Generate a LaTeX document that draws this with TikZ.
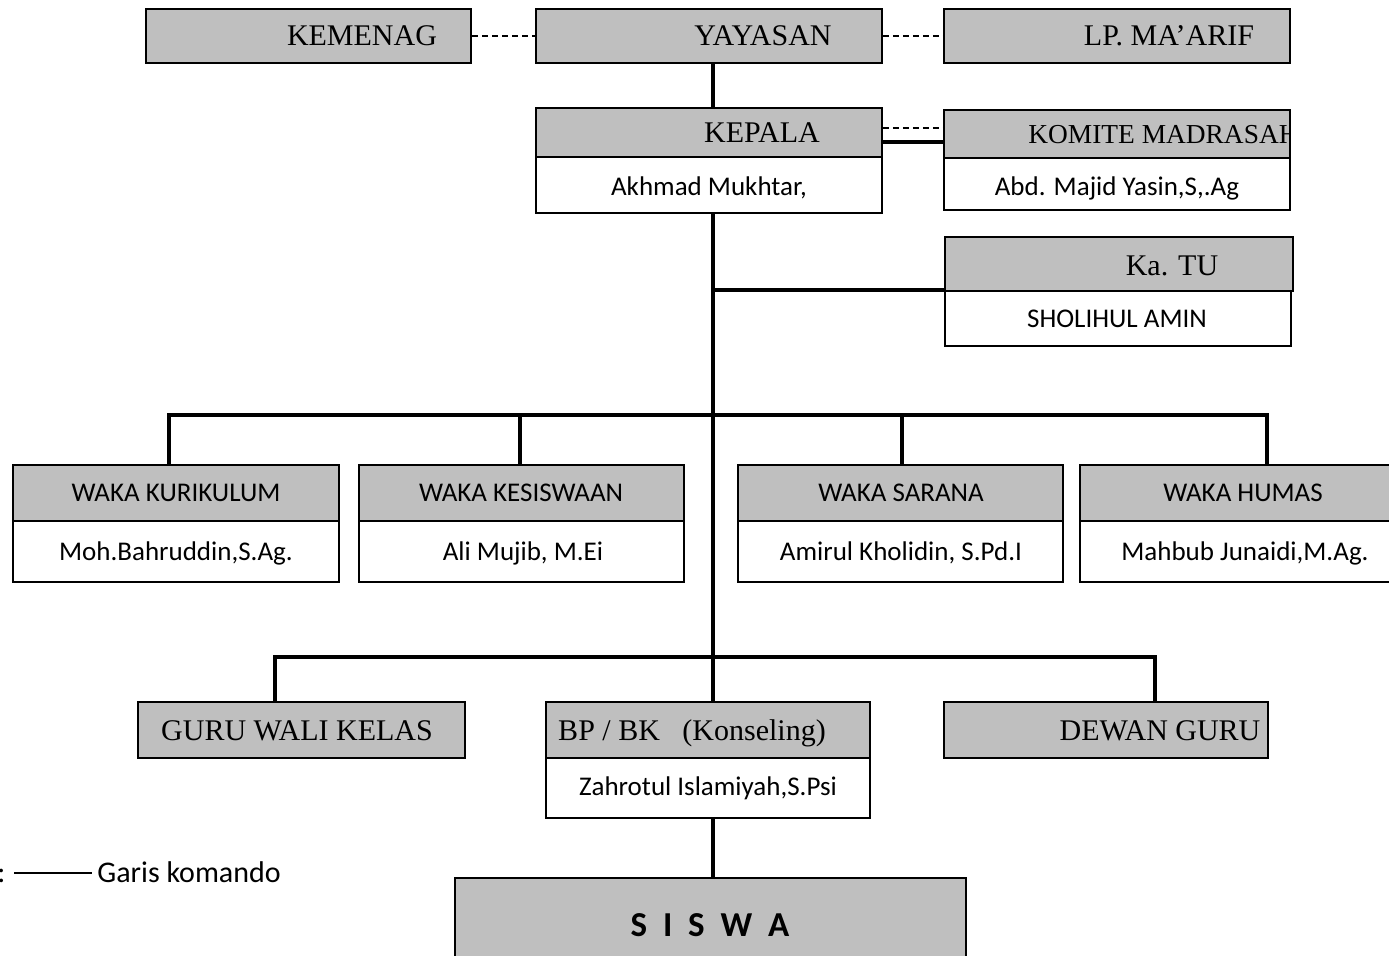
\documentclass[tikz,border=0pt]{standalone}
\usepackage{fontspec}
\setmainfont{Liberation Serif}
\newfontfamily\calibfont{Carlito}
\usetikzlibrary{fit}
\definecolor{boxgray}{RGB}{191,191,191}
\tikzset{
  gbox/.style={draw=black, fill=boxgray, line width=0.9pt, inner sep=0pt},
  wbox/.style={draw=black, fill=white, line width=0.9pt, inner sep=0pt},
  cmd/.style={line width=1.7pt},
  legline/.style={line width=0.7pt},
  rel/.style={line width=0.7pt, dash pattern=on 3pt off 2pt},
  tms/.style={font=\fontsize{15}{17}\selectfont, inner sep=0pt, anchor=base},
  clb/.style={font=\calibfont\fontsize{13.5}{16}\selectfont, inner sep=0pt, anchor=base},
}
\begin{document}
\begin{tikzpicture}[x=0.5pt,y=-0.5pt]
\useasboundingbox (0,0) rectangle (1389,956);
\clip (0,0) rectangle (1389,956);
% coordinates
\coordinate (spine) at (713,0);
\coordinate (busAL) at (169,415);
\coordinate (busAK) at (520,415);
\coordinate (busAS) at (902,415);
\coordinate (busAR) at (1267,415);
\coordinate (busBL) at (275,657);
\coordinate (busBR) at (1155,657);
\coordinate (legL) at (14,873);
\coordinate (legR) at (92,873);
% boxes
\node[gbox, fit={(146,9) (471,63)}] (kemenag) {};
\node[gbox, fit={(536,9) (882,63)}] (yayasan) {};
\node[gbox, fit={(944,9) (1290,63)}] (lpmaarif) {};
\node[gbox, fit={(536,108) (882,157)}] (kepalah) {};
\node[wbox, fit={(536,157) (882,213)}] (kepalan) {};
\node[gbox, fit={(944,110) (1290,158)}] (komiteh) {};
\node[wbox, fit={(944,158) (1290,210)}] (komiten) {};
\node[gbox, fit={(945,237) (1293,291)}] (katuh) {};
\node[wbox, fit={(945,291) (1291,346)}] (katun) {};
\node[gbox, fit={(13,465) (339,521)}] (kurh) {};
\node[wbox, fit={(13,521) (339,582)}] (kurn) {};
\node[gbox, fit={(359,465) (684,521)}] (kesh) {};
\node[wbox, fit={(359,521) (684,582)}] (kesn) {};
\node[gbox, fit={(738,465) (1063,521)}] (sarh) {};
\node[wbox, fit={(738,521) (1063,582)}] (sarn) {};
\node[gbox, fit={(1080,465) (1405,521)}] (humh) {};
\node[wbox, fit={(1080,521) (1405,582)}] (humn) {};
\node[gbox, fit={(138,702) (465,758)}] (guruwali) {};
\node[gbox, fit={(546,702) (870,758)}] (bpbkh) {};
\node[wbox, fit={(546,758) (870,818)}] (bpbkn) {};
\node[gbox, fit={(944,702) (1268,758)}] (dewan) {};
\node[gbox, fit={(455,878) (966,980)}] (siswa) {};
% texts
\node[tms] (tkemenag) at (362,46) {KEMENAG};
\node[tms] (tyayasan) at (763,46) {YAYASAN};
\node[tms] (tlp) at (1169,46) {LP. MA’ARIF};
\node[tms] (tkepala) at (762,143) {KEPALA};
\node[clb] (tkepalan) at (709,195.5) {Akhmad Mukhtar,};
\begin{scope}
\clip (944,110) rectangle (1290,158);
\node[tms, font=\fontsize{13.7}{17}\selectfont, anchor=base west] (tkomite) at (1028,144) {KOMITE MADRASAH};
\end{scope}
\node[clb] (tkomiten) at (1117,195.5) {Abd. Majid Yasin,S,.Ag};
\node[tms] (tkatu) at (1172,276) {Ka. TU};
\node[clb] (tkatun) at (1117,327.5) {SHOLIHUL AMIN};
\node[clb] (tkurh) at (176,501.5) {WAKA KURIKULUM};
\node[clb] (tkurn) at (176,560.5) {Moh.Bahruddin,S.Ag.};
\node[clb] (tkesh) at (521,501.5) {WAKA KESISWAAN};
\node[clb] (tkesn) at (523,560.5) {Ali Mujib, M.Ei};
\node[clb] (tsarh) at (901,501.5) {WAKA SARANA};
\node[clb] (tsarn) at (901,560.5) {Amirul Kholidin, S.Pd.I};
\node[clb] (thumh) at (1243,501.5) {WAKA HUMAS};
\node[clb] (thumn) at (1245,560.5) {Mahbub Junaidi,M.Ag.};
\node[tms] (tguru) at (297,741) {GURU WALI KELAS};
\node[tms] (tbpbk) at (692,741) {BP / BK\ \ \ (Konseling)};
\begin{scope}
\clip (944,702) rectangle (1268,758);
\node[tms] (tdewan) at (1160,741) {DEWAN GURU};
\end{scope}
\node[clb] (tbpbkn) at (708,795.5) {Zahrotul Islamiyah,S.Psi};
\node[clb, font=\calibfont\bfseries\fontsize{17.5}{20}\selectfont] (tsiswa) at (710,937) {S\ \ I\ \ S\ \ W\ \ A};
\node[clb, font=\calibfont\fontsize{15}{18}\selectfont, anchor=base west] (tlegend) at (97,882.5) {Garis komando};
\node[clb, font=\calibfont\fontsize{15}{18}\selectfont, anchor=base west] (tcolon) at (-3,882.5) {:};
% connectors
\draw[rel] (kemenag.east) -- (yayasan.west);
\draw[rel] (yayasan.east) -- (lpmaarif.west);
\draw[cmd] (yayasan.south -| spine) -- (kepalah.north -| spine);
\draw[rel] ([yshift=2.25pt]kepalah.east) -- ([yshift=3pt]komiteh.west);
\draw[cmd] ([yshift=-4.75pt]kepalah.east) -- ([yshift=-4pt]komiteh.west);
\draw[cmd] (kepalan.south -| spine) -- (bpbkh.north -| spine);
\draw[cmd] (spine |- katun.north) -- (katun.north west);
\draw[cmd] (busAL |- kurh.north) -- (busAL) -- (busAR) -- (busAR |- humh.north);
\draw[cmd] (busAK) -- (busAK |- kesh.north);
\draw[cmd] (busAS) -- (busAS |- sarh.north);
\draw[cmd] (busBL |- guruwali.north) -- (busBL) -- (busBR) -- (busBR |- dewan.north);
\draw[cmd] (bpbkn.south -| spine) -- (siswa.north -| spine);
\draw[legline] (legL) -- (legR);
\end{tikzpicture}
\end{document}
